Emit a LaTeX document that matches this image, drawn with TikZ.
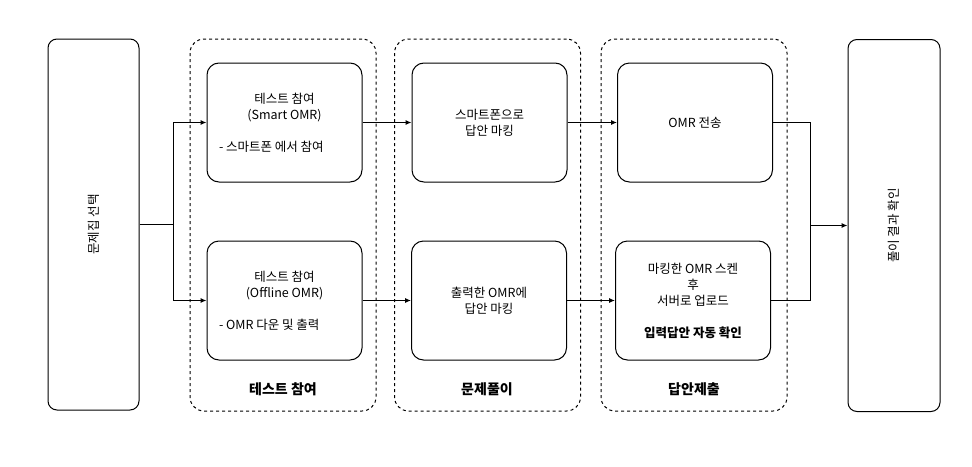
\documentclass[tikz,border=0pt]{standalone}
\usepackage{fontspec}
\setmainfont{Noto Sans CJK KR}
\usepackage{tikz}
\usetikzlibrary{arrows,arrows.meta,calc,shapes}
\tikzset{>={Latex[length=6pt,width=5pt]}}
\tikzset{
    stagebox/.style={draw, rectangle, rounded corners=12pt, line width=1pt, minimum width=155pt, minimum height=119pt, align=center, font=\fontsize{12.5}{16}\selectfont},
    sidebox/.style={draw, rectangle, rounded corners=9pt, line width=1pt, minimum width=91pt, minimum height=371pt, font=\fontsize{12.5}{16}\selectfont},
    groupbox/.style={draw, rectangle, rounded corners=14pt, line width=1pt, dash pattern=on 3pt off 3pt, minimum width=186pt, minimum height=372pt},
    grouplabel/.style={font=\fontsize{14}{16}\selectfont\bfseries},
    flow/.style={->, line width=1pt},
    link/.style={line width=1pt}
}

\begin{document}
\begin{tikzpicture}[x=1pt, y=-1pt]
    \useasboundingbox (0,0) rectangle (972,466);
    \node [groupbox] (g1) at (283,225) {};
    \node [groupbox] (g2) at (487.5,225) {};
    \node [groupbox] (g3) at (694,225) {};
    \node [grouplabel] (l1) at (283,389) {테스트 참여};
    \node [grouplabel] (l2) at (487,389) {문제풀이};
    \node [grouplabel] (l3) at (694,389) {답안제출};
    \node [sidebox] (sel) at (93.5,224.5) {};
    \node [rotate=90, font=\fontsize{12.5}{16}\selectfont] (selt) at (sel.center) {문제집 선택};
    \node [sidebox, minimum height=372pt, minimum width=92pt] (res) at (894,225.5) {};
    \node [rotate=90, font=\fontsize{12.5}{16}\selectfont] (rest) at (res.center) {풀이 결과 확인};
    \node [stagebox] (s1) at (284.5,122.5) {테스트 참여\\(Smart OMR)\\ \\\makebox[131pt][l]{- 스마트폰 에서 참여}};
    \node [stagebox] (o1) at (284.5,300.5) {테스트 참여\\(Offline OMR)\\ \\\makebox[131pt][l]{- OMR 다운 및 출력}};
    \node [stagebox] (s2) at (489.5,122.5) {스마트폰으로\\답안 마킹};
    \node [stagebox] (o2) at (489,300.5) {출력한 OMR에\\답안 마킹};
    \node [stagebox] (s3) at (695,122.5) {OMR 전송};
    \node [stagebox] (o3) at (693,300.5) {마킹한 OMR 스켄\\후\\서버로 업로드\\ \\\textbf{입력답안 자동 확인}};
    \coordinate (fork) at (173,224.5);
    \coordinate (join) at (810,225.5);
    \draw [link] (sel.east) -- (fork);
    \draw [flow] (fork) |- (s1.west);
    \draw [flow] (fork) |- (o1.west);
    \draw [flow] (s1) -- (s2);
    \draw [flow] (s2) -- (s3);
    \draw [flow] (o1) -- (o2);
    \draw [flow] (o2) -- (o3);
    \draw [link] (s3.east) -| (join);
    \draw [link] (o3.east) -| (join);
    \draw [flow] (join) -- (res.west);
\end{tikzpicture}
\end{document}
